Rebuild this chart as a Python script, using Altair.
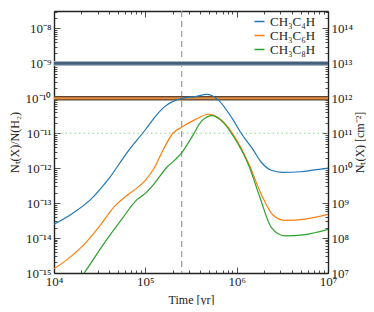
import math
import altair as alt
import pandas as pd

# ---------------- data ----------------
species = ["CH₃C₄H", "CH₃C₆H", "CH₃C₈H"]
colors = ["#1f77b4", "#ff7f0e", "#2ca02c"]

t_c4 = [1.0e4, 1.58e4, 2.51e4, 3.98e4, 6.31e4, 1.0e5, 1.26e5, 1.58e5, 2.51e5, 3.55e5,
        4.68e5, 6.31e5, 8.9e5, 1.12e6, 1.48e6, 1.86e6, 2.4e6, 3.16e6, 5.0e6, 7.1e6, 1.0e7]
y_c4 = [2.5e-14, 5.0e-14, 1.26e-13, 5.0e-13, 2.8e-12, 1.26e-11, 2.8e-11, 5.4e-11, 1.0e-10, 1.12e-10,
        1.29e-10, 8.9e-11, 2.7e-11, 1.0e-11, 3.7e-12, 1.48e-12, 8.7e-13, 7.6e-13, 7.9e-13, 8.9e-13, 1.0e-12]

t_c6 = [1.0e4, 1.41e4, 2.14e4, 3.16e4, 4.57e4, 6.31e4, 7.94e4, 1.0e5, 1.26e5, 1.58e5, 2.0e5,
        2.51e5, 3.55e5, 4.9e5, 6.8e5, 9.5e5, 1.35e6, 1.86e6, 2.51e6, 3.4e6, 5.6e6, 1.0e7]
y_c6 = [1.32e-15, 2.5e-15, 6.6e-15, 2.2e-14, 7.9e-14, 1.66e-13, 2.6e-13, 4.5e-13, 1.05e-12, 3.5e-12, 1.0e-11,
        1.5e-11, 2.5e-11, 3.5e-11, 2.4e-11, 7.9e-12, 1.38e-12, 1.78e-13, 4.5e-14, 3.2e-14, 3.5e-14, 4.8e-14]

t_c8 = [1.58e4, 2.14e4, 3.55e4, 5.4e4, 8.1e4, 1.0e5, 1.26e5, 1.74e5, 2.14e5, 2.51e5, 3.24e5,
        4.17e5, 5.4e5, 6.8e5, 9.5e5, 1.35e6, 1.78e6, 2.4e6, 3.4e6, 5.6e6, 1.0e7]
y_c8 = [3.5e-16, 1.0e-15, 7.2e-15, 3.2e-14, 1.26e-13, 1.9e-13, 3.7e-13, 1.1e-12, 1.78e-12, 2.8e-12, 7.9e-12,
        2.3e-11, 3.2e-11, 2.3e-11, 7.2e-12, 1.23e-12, 1.58e-13, 2.0e-14, 1.15e-14, 1.26e-14, 1.78e-14]

obs_c4 = 1e-9        # observed CH3C4H abundance (band)
obs_c6 = 1e-10       # observed CH3C6H abundance (band)
lim_c8 = 1e-11       # CH3C8H upper limit (dotted)
t_mark = 2.5e5       # dashed time marker

x_domain = [1e4, 1e7]
y_domain = [1e-15, 3.16e-8]
yr_domain = [1e7, 3.16e14]

x_major = [1e4, 1e5, 1e6, 1e7]
x_labels = ["10⁴", "10⁵", "10⁶", "10⁷"]
y_major = [1e-15, 1e-14, 1e-13, 1e-12, 1e-11, 1e-10, 1e-9, 1e-8]
y_labels = ["10⁻¹⁵", "10⁻¹⁴", "10⁻¹³", "10⁻¹²", "10⁻¹¹", "10⁻¹⁰", "10⁻⁹", "10⁻⁸"]
yr_major = [1e7, 1e8, 1e9, 1e10, 1e11, 1e12, 1e13, 1e14]
yr_labels = ["10⁷", "10⁸", "10⁹", "10¹⁰", "10¹¹", "10¹²", "10¹³", "10¹⁴"]
minor_mult = [1, 2, 3, 4, 5, 6, 7, 8, 9]

FONT = "Liberation Serif"

# ---------------- helpers ----------------
def all_ticks(majors, lo, hi):
    vals = []
    for m in majors + [majors[0] / 10]:
        for k in minor_mult:
            v = m * k
            if lo * 0.999 <= v <= hi * 1.001:
                vals.append(v)
    return sorted(set(vals))


def label_expr(majors, labels):
    expr = "''"
    for m, lab in zip(majors, labels):
        e = round(math.log10(m))
        expr = f"(round(log(datum.value)/LN10*1000) == {e * 1000}) ? '{lab}' : ({expr})"
    return expr


is_major = "abs(log(datum.value)/LN10 - round(log(datum.value)/LN10)) < 0.001"
tick_size = {"condition": {"test": is_major, "value": -6}, "value": -3}


def make_axis(orient, majors, labels, lo, hi, title, show_labels=True, title_angle=None, title_pad=4, label_pad=10):
    kw = dict(
        orient=orient,
        values=all_ticks(majors, lo, hi),
        tickSize=tick_size,
        tickColor="#222",
        tickWidth=0.8,
        domainColor="#222",
        domainWidth=1.4,
        grid=False,
        labelFont=FONT,
        labelFontSize=13,
        labelColor="#222",
        labelPadding=label_pad,
        labelFlush=False,
        labelOverlap=False,
        title=title,
        titleFont=FONT,
        titleFontSize=12,
        titleFontWeight="normal",
        titleColor="#222",
        titlePadding=title_pad,
    )
    if show_labels:
        kw["labelExpr"] = label_expr(majors, labels)
    else:
        kw["labels"] = False
    if title_angle is not None:
        kw["titleAngle"] = title_angle
    return alt.Axis(**kw)


x_scale = alt.Scale(type="log", domain=x_domain, nice=False)
y_scale = alt.Scale(type="log", domain=y_domain, nice=False)
yr_scale = alt.Scale(type="log", domain=yr_domain, nice=False)

x_axis = make_axis("bottom", x_major, x_labels, *x_domain, "Time [yr]", title_pad=3, label_pad=8)
x_axis_top = make_axis("top", x_major, x_labels, *x_domain, None, show_labels=False)
y_axis = make_axis("left", y_major, y_labels, *y_domain, "Nₜ(X)/N(H₂)", title_pad=4, label_pad=9)
yr_axis = make_axis("right", yr_major, yr_labels, *yr_domain, "Nₜ(X) [cm⁻²]", title_angle=270, title_pad=14, label_pad=9)

X = alt.X("t:Q", scale=x_scale, axis=x_axis)
Y = alt.Y("v:Q", scale=y_scale, axis=y_axis)

# ---------------- layers ----------------
rows = []
for name, ts, ys in [(species[0], t_c4, y_c4), (species[1], t_c6, y_c6), (species[2], t_c8, y_c8)]:
    for t, v in zip(ts, ys):
        rows.append({"t": t, "v": v, "species": name})
df = pd.DataFrame(rows)

curves = alt.Chart(df).mark_line(strokeWidth=1.2, clip=True, interpolate="monotone").encode(
    x=X,
    y=Y,
    color=alt.Color(
        "species:N",
        scale=alt.Scale(domain=species, range=colors),
        legend=alt.Legend(
            title=None,
            orient="none",
            legendX=197,
            legendY=2,
            padding=2,
            symbolType="stroke",
            symbolSize=100,
            symbolStrokeWidth=1.5,
            labelFont=FONT,
            labelFontSize=13,
            labelColor="#222",
            rowPadding=0,
            labelLimit=200,
        ),
    ),
    order=alt.Order("t:Q"),
)

obs_df = pd.DataFrame({"v": [obs_c4]})
obs6_df = pd.DataFrame({"v": [obs_c6]})
lim_df = pd.DataFrame({"v": [lim_c8]})
mark_df = pd.DataFrame({"t": [t_mark]})

band4_outer = alt.Chart(obs_df).mark_rule(color="#aab3bd", strokeWidth=5).encode(y=Y)
band4_inner = alt.Chart(obs_df).mark_rule(color="#45607d", strokeWidth=2.6).encode(y=Y)
band6_outer = alt.Chart(obs6_df).mark_rule(color="#5e4632", strokeWidth=4.5).encode(y=Y)
band6_inner = alt.Chart(obs6_df).mark_rule(color="#e58c3e", strokeWidth=2).encode(y=Y)
lim_rule = alt.Chart(lim_df).mark_rule(color="#8fd18f", strokeWidth=1.2, strokeDash=[1.5, 3]).encode(y=Y)
t_rule = alt.Chart(mark_df).mark_rule(color="#999999", strokeWidth=1.2, strokeDash=[6, 4]).encode(x=X)

left = alt.layer(lim_rule, t_rule, band4_outer, band4_inner, band6_outer, band6_inner, curves)

right_df = pd.DataFrame({"t": [1e5], "n": [1e10]})
right = alt.Chart(right_df).mark_point(opacity=0).encode(
    x=alt.X("t:Q", scale=x_scale, axis=x_axis_top),
    y=alt.Y("n:Q", scale=yr_scale, axis=yr_axis),
)

chart = (
    alt.layer(left, right)
    .resolve_scale(y="independent")
    .resolve_axis(x="independent", y="independent")
    .properties(width=274, height=262, padding={"left": 0, "top": -3, "right": 0, "bottom": 0})
    .configure_view(stroke=None)
    .configure(background="white")
)

chart.save("out.html", embed_options={"renderer": "svg", "actions": False})
